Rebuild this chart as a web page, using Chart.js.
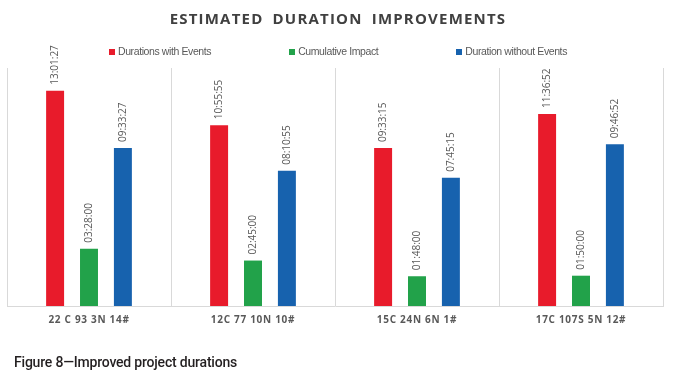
<!DOCTYPE html>
<html>
<head>
<meta charset="utf-8">
<script src="https://cdn.jsdelivr.net/npm/chart.js@4"></script>
<style>
  body { margin: 0; background: #fff; }
  #wrap { position: relative; width: 676px; height: 379px; }
  #title {
    position: absolute; left: 0; top: 8px; width: 676px; text-align: center;
    font: 700 15px "Open Sans", sans-serif; color: #404040;
    letter-spacing: 1.2px; word-spacing: 4px;
  }
  #legend {
    position: absolute; left: 0; top: 45px; width: 676px;
    display: flex; justify-content: center; gap: 78px;
    font: 10.5px "Liberation Sans", sans-serif; color: #595959; letter-spacing: -0.4px;
  }
  #legend span.box { display: inline-block; width: 6px; height: 6px; margin-right: 3px; }
  #caption {
    position: absolute; left: 14px; top: 354px;
    font: 500 14px Roboto, sans-serif; color: #231f20; letter-spacing: -0.2px;
  }
</style>
</head>
<body>
<div id="wrap">
  <canvas id="chart" width="676" height="379"></canvas>
  <div id="title">ESTIMATED DURATION IMPROVEMENTS</div>
  <div id="legend"></div>
  <div id="caption">Figure 8—Improved project durations</div>
</div>
<script>
const categories = ["22 C 93 3N 14#", "12C 77 10N 10#", "15C 24N 6N 1#", "17C 107S 5N 12#"];
const withEvents = ["13:01:27", "10:55:55", "09:33:15", "11:36:52"];
const cumulativeImpact = ["03:28:00", "02:45:00", "01:48:00", "01:50:00"];
const withoutEvents = ["09:33:27", "08:10:55", "07:45:15", "09:46:52"];

const seriesNames = ["Durations with Events", "Cumulative Impact", "Duration without Events"];
const seriesColors = ["#e81b2b", "#22a24a", "#1762ae"];

// "hh:mm:ss" -> seconds
function toSeconds(s) {
  const p = s.split(":").map(Number);
  return p[0] * 3600 + p[1] * 60 + p[2];
}

const series = [withEvents, cumulativeImpact, withoutEvents];

// html legend, the chart.js one spaces items too tall when padding is wide
const legendEl = document.getElementById("legend");
seriesNames.forEach((name, i) => {
  const item = document.createElement("div");
  item.innerHTML = `<span class="box" style="background:${seriesColors[i]}"></span>${name}`;
  legendEl.appendChild(item);
});

// spaced-out category labels: letterSpacing only while the scales draw
const spacedTicks = {
  id: "spacedTicks",
  beforeDraw(chart) {
    chart.ctx.save();
    chart.ctx.letterSpacing = "0.7px";
  },
  beforeDatasetsDraw(chart) {
    chart.ctx.restore();
  }
};

const valueLabels = {
  id: "valueLabels",
  afterDatasetsDraw(chart) {
    const ctx = chart.ctx;
    ctx.save();
    ctx.font = "10px 'Open Sans', sans-serif";
    ctx.fillStyle = "#595959";
    ctx.textAlign = "left";
    ctx.textBaseline = "middle";
    chart.data.datasets.forEach((ds, i) => {
      chart.getDatasetMeta(i).data.forEach((bar, j) => {
        ctx.save();
        ctx.translate(bar.x, bar.y - 6);
        ctx.rotate(-Math.PI / 2);
        ctx.fillText(ds.durations[j], 0, 0);
        ctx.restore();
      });
    });
    ctx.restore();
  }
};

new Chart(document.getElementById("chart"), {
  type: "bar",
  data: {
    labels: categories,
    datasets: series.map((vals, i) => ({
      label: seriesNames[i],
      data: vals.map(toSeconds),
      durations: vals,
      backgroundColor: seriesColors[i],
      categoryPercentage: 0.62,
      barPercentage: 0.53
    }))
  },
  options: {
    responsive: false,
    animation: false,
    layout: { padding: { left: 7, right: 13, top: 68, bottom: 45 } },
    plugins: {
      legend: { display: false },
      tooltip: { enabled: false }
    },
    scales: {
      x: {
        grid: { color: "#d9d9d9", drawTicks: false, offset: true },
        border: { color: "#d9d9d9" },
        ticks: { color: "#595959", padding: 8, font: { family: "Open Sans", size: 10, weight: "bold" } }
      },
      y: { display: false, min: 0, max: 51840 }
    }
  },
  plugins: [spacedTicks, valueLabels]
});
</script>
</body>
</html>
